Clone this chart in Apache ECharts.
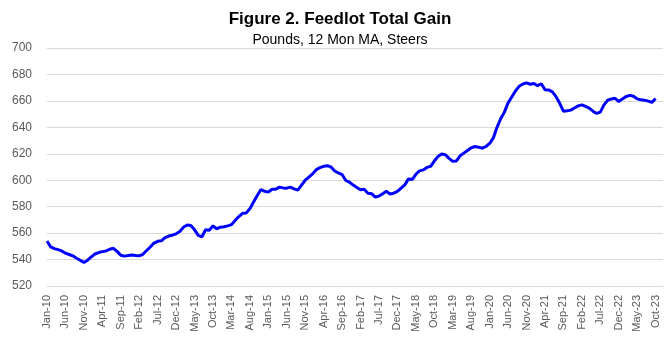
<!DOCTYPE html>
<html lang="en">
<head>
    <meta charset="UTF-8">
    <title>Feedlot Total Gain</title>
    <script type="text/javascript" src="https://cdn.jsdelivr.net/npm/echarts@6/dist/echarts.min.js"></script>
    <style>
        html, body { margin: 0; padding: 0; background: #fff; }
    </style>
</head>
<body>
<div id="main" style="width: 669px;height: 351px"></div>

<script>
    // months Jan-10 .. Dec-23, data runs to Oct-23
    var monthNames = ['Jan', 'Feb', 'Mar', 'Apr', 'May', 'Jun', 'Jul', 'Aug', 'Sep', 'Oct', 'Nov', 'Dec'];
    var startYear = 2010;
    var endYear = 2023;

    // 12 month moving average, pounds
    var totalGain = [
        554.0, 549.5, 548.3, 547.5, 546.5, 544.8, 543.8, 542.8, 541.0, 539.5, 537.7, 539.5,
        542.0, 544.2, 545.3, 546.0, 546.5, 547.8, 548.5, 546.2, 543.2, 542.6, 543.0, 543.5,
        543.0, 542.8, 544.0, 546.8, 549.5, 552.5, 553.8, 554.2, 556.6, 557.8, 558.4, 559.5,
        561.2, 564.5, 566.2, 565.8, 562.5, 558.3, 557.2, 562.6, 562.2, 565.5, 563.3, 564.5,
        564.8, 565.5, 566.4, 569.5, 572.5, 575.0, 575.2, 578.5, 583.5, 588.5, 593.0, 591.6,
        591.0, 593.2, 593.2, 594.8, 594.2, 594.0, 594.8, 593.5, 592.5, 596.3, 600.0, 602.4,
        604.8, 608.0, 609.5, 610.5, 611.0, 610.0, 607.0, 605.5, 604.3, 599.8, 598.5, 596.3,
        594.5, 592.8, 593.2, 590.2, 589.8, 587.2, 588.0, 589.8, 591.6, 589.6, 590.2, 591.5,
        594.0, 596.5, 601.0, 600.5, 604.5, 607.1, 607.8, 609.7, 610.5, 614.5, 618.0, 619.8,
        619.3, 616.5, 614.3, 614.6, 618.5, 620.5, 622.5, 624.5, 625.5, 625.0, 624.2, 625.5,
        627.8, 632.0, 640.0, 646.5, 651.5, 658.5, 663.0, 667.5, 671.0, 672.8, 673.6, 672.6,
        673.1, 671.5, 673.0, 668.5, 668.3, 666.8, 663.2, 658.2, 652.2, 652.5, 653.0, 654.6,
        656.2, 657.0, 655.8, 654.5, 652.2, 650.5, 651.5, 657.0, 660.5, 661.5, 662.0, 659.5,
        661.5, 663.3, 664.2, 663.5, 661.5, 660.8, 660.5, 659.8, 658.9, 661.8
    ];

    var categories = [];
    for (var y = startYear; y <= endYear; y++) {
        for (var m = 0; m < 12; m++) {
            categories.push(monthNames[m] + '-' + String(y).slice(2));
        }
    }

    var chartDom = document.getElementById('main');
    var myChart = echarts.init(chartDom);
    var option;

    option = {
        animation: false,
        backgroundColor: '#ffffff',
        title: {
            text: 'Figure 2. Feedlot Total Gain',
            subtext: 'Pounds, 12 Mon MA, Steers',
            left: 335,
            textAlign: 'center',
            top: 6,
            itemGap: 5,
            textStyle: {
                fontFamily: 'Liberation Sans',
                fontSize: 17,
                fontWeight: 'bold',
                color: '#000000'
            },
            subtextStyle: {
                fontFamily: 'Liberation Sans',
                fontSize: 14,
                color: '#000000'
            }
        },
        grid: {
            left: 47,
            right: 6,
            top: 48,
            bottom: 65
        },
        xAxis: {
            type: 'category',
            data: categories,
            boundaryGap: false,
            axisLine: { show: true, lineStyle: { color: '#d9d9d9', width: 1 } },
            axisTick: { show: false },
            axisLabel: {
                interval: 4,
                rotate: 90,
                margin: 9,
                fontFamily: 'Liberation Sans',
                fontSize: 11,
                color: '#595959'
            },
            splitLine: { show: false }
        },
        yAxis: {
            type: 'value',
            min: 520,
            max: 700,
            interval: 20,
            axisLine: { show: false },
            axisTick: { show: false },
            axisLabel: {
                margin: 15,
                fontFamily: 'Liberation Sans',
                fontSize: 12,
                color: '#595959'
            },
            splitLine: { lineStyle: { color: '#d9d9d9', width: 1 } }
        },
        series: [
            {
                name: 'Total Gain',
                type: 'line',
                data: totalGain,
                showSymbol: false,
                smooth: false,
                lineStyle: { color: '#0000ff', width: 3 },
                itemStyle: { color: '#0000ff' }
            }
        ]
    };

    myChart.setOption(option);
</script>
</body>
</html>
